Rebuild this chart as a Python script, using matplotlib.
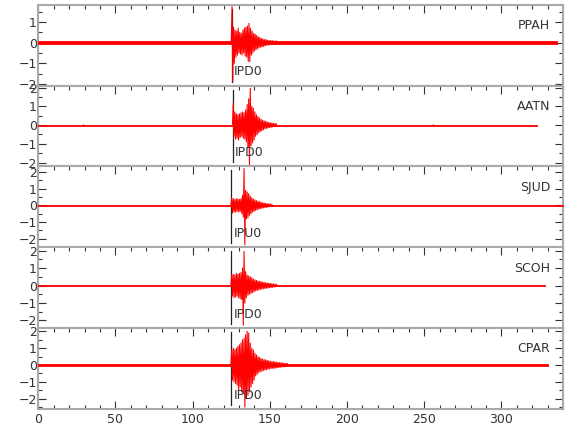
import numpy as np
import matplotlib
matplotlib.use("Agg")
import matplotlib.pyplot as plt
from matplotlib.ticker import MultipleLocator

plt.rcParams['font.family'] = ['Liberation Sans Narrow', 'DejaVu Sans']

# station names, pick labels and pick times (s)
stations = ["PPAH", "AATN", "SJUD", "SCOH", "CPAR"]
pick_labels = ["IPD0", "IPD0", "IPU0", "IPD0", "IPD0"]
pick_times = [125.3, 126.0, 125.0, 125.0, 125.0]

# record length (s) and background noise half-width for each trace
record_end = [336, 323, 340, 328, 330]
noise_amp = [0.06, 0.03, 0.03, 0.05, 0.04]

# y limits of each panel
y_low = [-2.08, -2.2, -2.5, -2.43, -2.6]
y_high = [1.83, 2.1, 2.33, 2.2, 2.2]

# burst: start time and signed extrema read every 0.5 s
burst_t0 = [125.0, 125.8, 124.8, 124.8, 124.8]
burst_dt = 0.5

ppah_burst = [0.05, 1.74, -1.9, 0.75, -1.0, 0.6, -0.7, 0.55, -0.6, 0.7,
              -0.5, 0.5, -0.55, 0.45, -0.6, 0.6, -0.5, 0.7, -0.65, 0.75,
              -0.7, 0.8, -0.9, 0.93, -0.92, 0.7, -0.6, 0.55, -0.5, 0.45,
              -0.4, 0.4, -0.35, 0.35, -0.3, 0.28, -0.25, 0.25, -0.22, 0.2,
              -0.2, 0.18, -0.18, 0.15, -0.15, 0.14, -0.12, 0.12, -0.12, 0.1,
              -0.1, 0.1, -0.09, 0.1, -0.08, 0.08, -0.07, 0.08, -0.07, 0.07]
aatn_burst = [0.05, 1.16, -0.6, 0.7, -0.75, 0.6, -0.7, 0.55, -0.8, 0.6,
              -0.65, 0.65, -0.6, 0.7, -0.7, 0.65, -0.75, 0.8, -0.9, 1.1,
              -1.2, 1.4, -2.14, 1.96, -1.1, 1.0, -0.95, 0.9, -0.8, 0.7,
              -0.6, 0.55, -0.5, 0.45, -0.4, 0.38, -0.35, 0.3, -0.3, 0.26,
              -0.25, 0.22, -0.2, 0.2, -0.18, 0.16, -0.15, 0.14, -0.13, 0.12,
              -0.12, 0.1, -0.1, 0.09, -0.08, 0.08, -0.07, 0.06]
sjud_burst = [0.02, 0.44, -0.46, 0.4, -0.4, 0.35, -0.4, 0.4, -0.35, 0.38,
              -0.4, 0.35, -0.35, 0.4, -0.5, 0.6, -0.7, 2.2, -2.36, 0.9,
              -0.8, 0.8, -0.75, 0.7, -0.6, 0.55, -0.5, 0.45, -0.4, 0.38,
              -0.35, 0.33, -0.3, 0.28, -0.26, 0.25, -0.22, 0.22, -0.2, 0.18,
              -0.17, 0.16, -0.15, 0.14, -0.13, 0.12, -0.12, 0.1, -0.1, 0.09,
              -0.08, 0.08, -0.07, 0.06, -0.06]
scoh_burst = [0.05, 0.62, -0.6, 0.65, -0.7, 0.6, -0.65, 0.7, -0.6, 0.65,
              -0.7, 0.7, -0.75, 0.75, -0.8, 1.0, -2.27, 1.96, -1.0, 0.8,
              -0.7, 0.6, -0.55, 0.55, -0.5, 0.5, -0.45, 0.45, -0.4, 0.38,
              -0.35, 0.33, -0.3, 0.3, -0.28, 0.26, -0.25, 0.24, -0.22, 0.22,
              -0.2, 0.2, -0.18, 0.18, -0.17, 0.16, -0.15, 0.15, -0.14, 0.13,
              -0.12, 0.12, -0.11, 0.1, -0.1, 0.09, -0.08, 0.08, -0.07, 0.07]
cpar_burst = [0.05, 0.9, -0.9, 1.0, -1.0, 0.9, -1.1, 1.0, -1.2, 1.1,
              -1.5, 1.2, -1.3, 1.3, -1.6, 1.5, -1.7, 1.6, -2.5, 1.8,
              -2.0, 2.0, -1.8, 1.9, -1.6, 1.3, -1.3, 1.0, -1.1, 0.9,
              -0.9, 0.7, -0.65, 0.6, -0.55, 0.5, -0.45, 0.45, -0.4, 0.38,
              -0.36, 0.35, -0.33, 0.32, -0.3, 0.3, -0.28, 0.27, -0.25, 0.25,
              -0.23, 0.22, -0.21, 0.2, -0.2, 0.2, -0.19, 0.18, -0.18, 0.17,
              -0.16, 0.15, -0.15, 0.14, -0.13, 0.13, -0.12, 0.12, -0.11, 0.1,
              -0.1, 0.1, -0.09, 0.09, -0.08]
bursts = [ppah_burst, aatn_burst, sjud_burst, scoh_burst, cpar_burst]

# small isolated bumps on AATN (time, half-width)
aatn_bumps_t = [29, 256]
aatn_bumps_a = [0.07, 0.06]

spine_col = "#a9a9a9"
tick_col = "#333333"
trace_col = "#ff0000"

fig, axes = plt.subplots(5, 1, figsize=(5.8, 4.4), dpi=100, sharex=True)
plt.subplots_adjust(left=0.066, right=0.971, top=0.989, bottom=0.071, hspace=0)

for i, ax in enumerate(axes):
    # background noise band
    ax.fill_between([0, record_end[i]], -noise_amp[i], noise_amp[i],
                    facecolor=trace_col, edgecolor=trace_col, lw=0.6, zorder=3)
    # main arrival
    tb = burst_t0[i] + burst_dt*np.arange(len(bursts[i]))
    ax.plot(tb, bursts[i], color=trace_col, lw=0.8, zorder=3)
    if stations[i] == "AATN":
        ax.vlines(aatn_bumps_t, [-a for a in aatn_bumps_a], aatn_bumps_a,
                  color=trace_col, lw=1.0, zorder=3)

    # pick line and label
    ax.axvline(pick_times[i], ymin=0.05, ymax=0.95, color="#222222", lw=0.9, zorder=2)
    ax.text(pick_times[i] + 1.5, 0.17, pick_labels[i], transform=ax.get_xaxis_transform(),
            ha="left", va="center", fontsize=9, color="#333333")
    ax.text(0.975, 0.74, stations[i], transform=ax.transAxes,
            ha="right", va="center", fontsize=9, color="#333333")

    ax.set_xlim(0, 340)
    ax.set_ylim(y_low[i], y_high[i])
    ax.yaxis.set_major_locator(MultipleLocator(1))
    ax.yaxis.set_minor_locator(MultipleLocator(0.5))
    ax.xaxis.set_major_locator(MultipleLocator(50))
    ax.xaxis.set_minor_locator(MultipleLocator(10))

    last = (i == len(axes) - 1)
    ax.tick_params(axis="x", which="both", direction="in", top=True, bottom=last,
                   labelbottom=last, colors=tick_col, labelsize=9, pad=3)
    ax.tick_params(axis="y", which="both", direction="in", left=True, right=True,
                   colors=tick_col, labelsize=9, pad=1)
    ax.tick_params(which="major", length=6, width=0.8)
    ax.tick_params(which="minor", length=3, width=0.8)
    for sp in ax.spines.values():
        sp.set_color(spine_col)
        sp.set_linewidth(1.5)

fig.savefig("out.png", dpi=100)
